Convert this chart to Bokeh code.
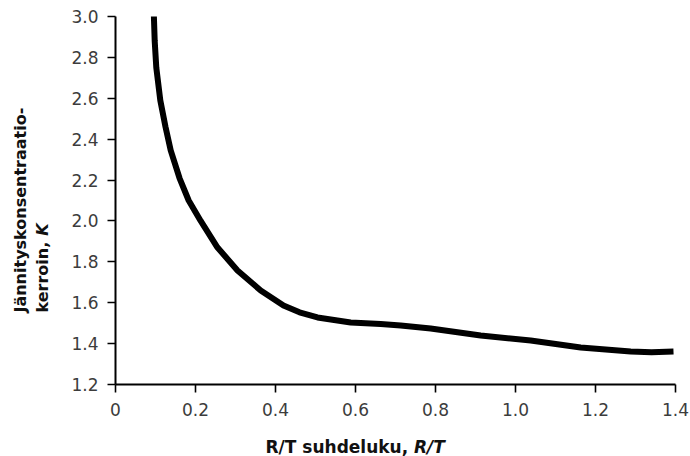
import math
from bokeh.plotting import figure
from bokeh.models import Range1d, FixedTicker, Label
from bokeh.embed import file_html
from bokeh.resources import INLINE

# ---- data ----
rt_ratio = [0.096, 0.098, 0.102, 0.112, 0.125, 0.138, 0.16, 0.183, 0.213, 0.255,
            0.305, 0.363, 0.42, 0.46, 0.505, 0.588, 0.663, 0.713, 0.788, 0.913, 1.038,
            1.163, 1.288, 1.34, 1.395]
k_factor = [3.0, 2.88, 2.75, 2.59, 2.46, 2.345, 2.21, 2.10, 2.0, 1.87,
            1.758, 1.66, 1.586, 1.553, 1.528, 1.503, 1.496, 1.489, 1.474, 1.44, 1.415,
            1.381, 1.361, 1.358, 1.362]

x_ticks = [0, 0.2, 0.4, 0.6, 0.8, 1.0, 1.2, 1.4]
x_tick_labels = ["0", "0.2", "0.4", "0.6", "0.8", "1.0", "1.2", "1.4"]
y_ticks = [1.2, 1.4, 1.6, 1.8, 2.0, 2.2, 2.4, 2.6, 2.8, 3.0]
y_tick_labels = ["1.2", "1.4", "1.6", "1.8", "2.0", "2.2", "2.4", "2.6", "2.8", "3.0"]

x_title = "R/T suhdeluku, "
x_title_italic = "R/T"
y_title_line1 = "Jännityskonsentraatio-"
y_title_line2 = "kerroin, "
y_title_italic = "K"

FONT = "DejaVu Sans"

# axes box in the reference: x 0..1.4 spans px 115..675, y 1.2..3.0 spans px 384..16
W, H = 690, 456
px_x = 400.0           # pixels per unit of R/T
px_y = 368.0 / 1.8     # pixels per unit of K
x_lo = 0 - 115 / px_x
x_hi = 1.4 + (W - 675) / px_x
y_lo = 1.2 - (H - 384) / px_y
y_hi = 3.0 + 16 / px_y

p = figure(width=W, height=H, output_backend="svg", toolbar_location=None,
           x_range=Range1d(x_lo, x_hi), y_range=Range1d(y_lo, y_hi),
           min_border=0, min_border_left=0, min_border_right=0,
           min_border_top=0, min_border_bottom=0)
p.outline_line_color = None
p.xgrid.visible = False
p.ygrid.visible = False
p.background_fill_color = "white"
p.border_fill_color = "white"

p.line(rt_ratio, k_factor, line_color="black", line_width=6, line_join="round")

xax, yax = p.xaxis[0], p.yaxis[0]
xax.fixed_location = 1.2
yax.fixed_location = 0
xax.bounds = (0, 1.4)
yax.bounds = (1.2, 3.0)

for ax, ticks, labels in ((xax, x_ticks, x_tick_labels),
                          (yax, y_ticks, y_tick_labels)):
    ax.ticker = FixedTicker(ticks=ticks, minor_ticks=[])
    ax.major_label_overrides = {t: l for t, l in zip(ticks, labels)}
    ax.axis_line_color = "black"
    ax.axis_line_width = 2
    ax.major_tick_line_color = "black"
    ax.major_tick_line_width = 1.6
    ax.major_tick_in = 0
    ax.major_tick_out = 8
    ax.minor_tick_line_color = None
    ax.major_label_text_font = FONT
    ax.major_label_text_font_size = "17px"
    ax.major_label_text_color = "#3c3c3c"

xax.major_label_standoff = 10
yax.major_label_standoff = 9

common = dict(text_font=FONT, text_color="#111111", text_align="left",
              text_baseline="alphabetic")

# x-axis title (bold + bold italic)
p.add_layout(Label(x=0.375, y=0.8967, text=x_title, text_font_size="17px",
                   text_font_style="bold", **common))
p.add_layout(Label(x=0.746, y=0.8967, text=x_title_italic, text_font_size="17px",
                   text_font_style="bold italic", **common))

# y-axis title, two rotated lines
p.add_layout(Label(x=-0.2375, y=1.552, text=y_title_line1, angle=math.pi / 2,
                   text_font_size="16px", text_font_style="bold", **common))
p.add_layout(Label(x=-0.1825, y=1.552, text=y_title_line2, angle=math.pi / 2,
                   text_font_size="16px", text_font_style="bold", **common))
p.add_layout(Label(x=-0.1825, y=1.928, text=y_title_italic, angle=math.pi / 2,
                   text_font_size="16px", text_font_style="bold italic", **common))

open("out.html", "w").write(file_html(p, INLINE))
